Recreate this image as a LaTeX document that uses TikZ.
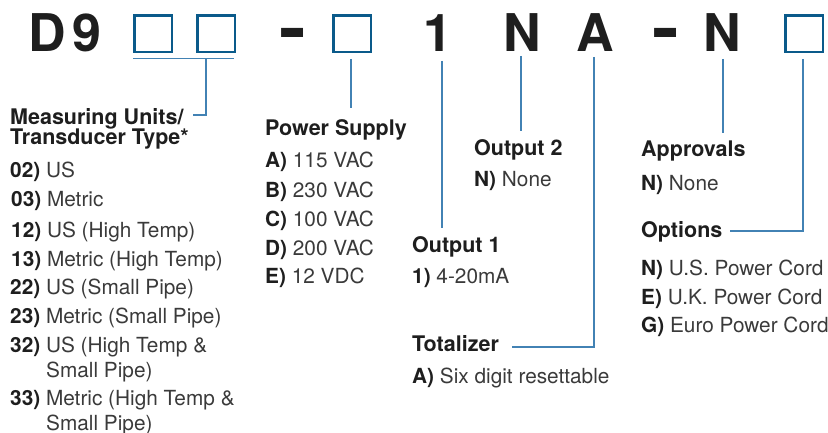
\documentclass[tikz,border=0pt]{standalone}
\usepackage{fontspec}
\usepackage{graphicx}
\setmainfont{TeX Gyre Heros}
\definecolor{boxblue}{HTML}{0A5A8A}
\definecolor{lineblue}{HTML}{4282B4}
\definecolor{textdark}{HTML}{1E1E1E}
\definecolor{textgrey}{HTML}{3A3A3A}
\newcommand\lab[1]{\textcolor{textdark}{\bfseries #1}}
\begin{document}
\begin{tikzpicture}[x=1pt,y=-1pt,
  big/.style={anchor=base, inner sep=0pt, text=textdark, font=\fontsize{52}{56}\selectfont\bfseries},
  codebox/.style={draw=boxblue, line width=2.4pt, minimum width=37.6pt, minimum height=36.6pt, inner sep=0pt, anchor=north west},
  head/.style={anchor=base west, inner sep=0pt, text=textdark, font=\fontsize{21.5}{24}\selectfont\bfseries},
  item/.style={anchor=base west, inner sep=0pt, text=textgrey, font=\fontsize{20.8}{24}\selectfont},
  conn/.style={draw=lineblue, line width=1.8pt}]
\useasboundingbox (0,0) rectangle (828,433);
% code line
\node[big] (d) at (47,52) {D};
\node[big] (nine) at (86.5,52) {9};
\node[codebox] (b1) at (133.2,14.2) {};
\node[codebox] (b2) at (196.2,14.2) {};
\node[big] (dash1) at (293,52) {\scalebox{1.55}[1.3]{-}};
\node[codebox] (b3) at (332.2,14.2) {};
\node[big] (one) at (437.5,52) {1};
\node[big] (nn) at (522.5,52) {N};
\node[big] (aa) at (595,52) {A};
\node[big] (dash2) at (665.5,52) {\scalebox{1.55}[1.3]{-}};
\node[big] (nn2) at (722.5,52) {N};
\node[codebox] (b4) at (784.2,14.2) {};
% measuring units
\node[head] (mu1) at (10,125) {Measuring Units/};
\node[head] (mu2) at (10,145) {Transducer Type*};
\node[item] (m02) at (10,178) {\lab{02)} US};
\node[item] (m03) at (11,207) {\lab{03)} Metric};
\node[item] (m12) at (11,237) {\lab{12)} US (High Temp)};
\node[item] (m13) at (11,266) {\lab{13)} Metric (High Temp)};
\node[item] (m22) at (10,294) {\lab{22)} US (Small Pipe)};
\node[item] (m23) at (10,323) {\lab{23)} Metric (Small Pipe)};
\node[item] (m32) at (10,352) {\lab{32)} US (High Temp \&};
\node[item] (m32b) at (46,377) {Small Pipe)};
\node[item] (m33) at (10,405) {\lab{33)} Metric (High Temp \&};
\node[item] (m33b) at (46,430) {Small Pipe)};
% power supply
\node[head] (ps) at (265,136) {Power Supply};
\node[item] (psa) at (265,168) {\lab{A)} 115 VAC};
\node[item] (psb) at (265,197) {\lab{B)} 230 VAC};
\node[item] (psc) at (265,226) {\lab{C)} 100 VAC};
\node[item] (psd) at (265,255) {\lab{D)} 200 VAC};
\node[item] (pse) at (265,283) {\lab{E)} 12 VDC};
% output 2
\node[head] (o2) at (474,156) {Output 2};
\node[item] (o2n) at (474,187) {\lab{N)} None};
% output 1
\node[head] (o1) at (412,252) {Output 1};
\node[item] (o11) at (412,283) {\lab{1)} 4-20mA};
% totalizer
\node[head] (tot) at (412,351) {Totalizer};
\node[item] (tota) at (412,383) {\lab{A)} Six digit resettable};
% approvals
\node[head] (ap) at (641,157) {Approvals};
\node[item] (apn) at (641,190) {\lab{N)} None};
% options
\node[head] (op) at (641,237) {Options};
\node[item] (opn) at (641,275) {\lab{N)} U.S. Power Cord};
\node[item] (ope) at (641,304) {\lab{E)} U.K. Power Cord};
\node[item] (opg) at (641,332) {\lab{G)} Euro Power Cord};
% connector coordinates
\coordinate (brl) at (133,58.5);
\coordinate (brr) at (234,58.5);
\coordinate (brm) at (206,58.5);
\coordinate (brc) at (206,115);
\coordinate (bre) at (193,115);
\coordinate (l3a) at (351,59);
\coordinate (l3b) at (351,108);
\coordinate (l1a) at (442,61);
\coordinate (l1b) at (442,228);
\coordinate (lna) at (521,56);
\coordinate (lnb) at (521,131);
\coordinate (laa) at (594,57);
\coordinate (lac) at (594,347);
\coordinate (lae) at (512,347);
\coordinate (ln2a) at (723,59);
\coordinate (ln2b) at (723,133);
\coordinate (l4a) at (803,59);
\coordinate (l4c) at (803,231);
\coordinate (l4e) at (730,231);
\draw[conn] (brl) -- (brr);
\draw[conn] (brm) -- (brc) -- (bre);
\draw[conn] (l3a) -- (l3b);
\draw[conn] (l1a) -- (l1b);
\draw[conn] (lna) -- (lnb);
\draw[conn] (laa) -- (lac) -- (lae);
\draw[conn] (ln2a) -- (ln2b);
\draw[conn] (l4a) -- (l4c) -- (l4e);
\end{tikzpicture}
\end{document}
